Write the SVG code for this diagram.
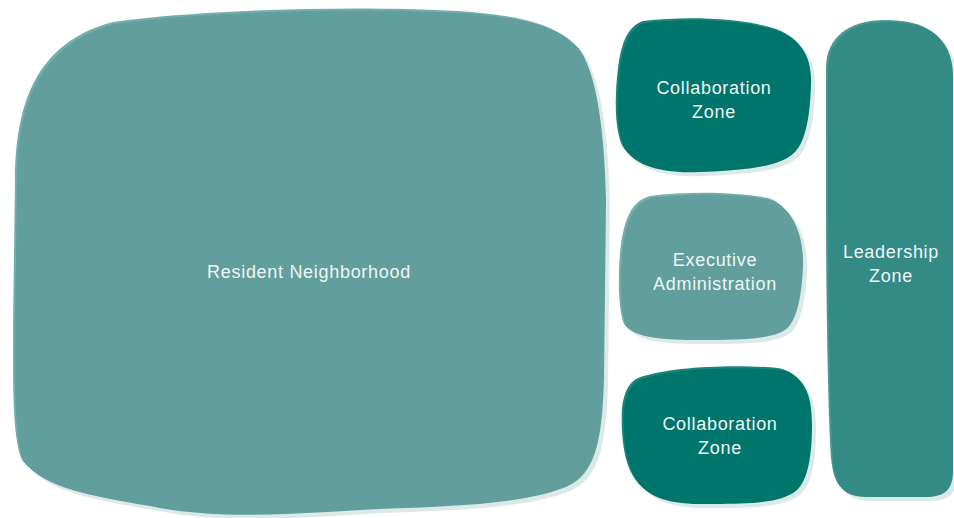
<svg xmlns="http://www.w3.org/2000/svg" width="954" height="518" viewBox="0 0 954 518">
<defs>
<style>
.sh{fill:#dbe9e8}
.hl-l{fill:#74aeab}
.hl-d{fill:#1a847c}
.hl-m{fill:#48988f}
.light{fill:#629e9b}
.dark{fill:#00756c}
.mid{fill:#348a84}
text{font-family:"Liberation Sans",Arial,sans-serif;font-size:18px;letter-spacing:0.7px;fill:#eef6f5;text-anchor:middle}
</style>
<path id="pRes" d="M115,24 C200,12 350,7 460,13 C520,17 560,26 580,50 C600,80 605,150 606,200 L604,380 C602,440 596,474 566,487 C520,505 450,506 380,509 C300,513 220,521 150,506 C90,496 45,488 24,462 C14,440 15,380 15,330 L17,180 C18,110 35,45 115,24 Z"/>
<path id="pC1" d="M645,23 C690,18 740,20 775,30 C800,38 812,55 811,85 C810,115 806,140 795,152 C780,168 740,170 700,172 C660,174 632,165 623,145 C616,125 617,95 620,70 C623,45 630,28 645,23 Z"/>
<path id="pEx" d="M652,198 C690,193 740,194 770,200 C795,208 804,240 803,265 C802,295 797,322 785,330 C770,340 735,340 700,340 C665,340 635,338 626,326 C620,310 620,280 622,255 C625,225 632,203 652,198 Z"/>
<path id="pC2" d="M640,380 C670,368 740,366 780,370 C805,375 812,395 812,425 C812,455 808,480 797,490 C780,505 740,504 700,504 C665,504 645,495 635,478 C624,460 623,430 624,410 C626,395 630,385 640,380 Z"/>
<path id="pLd" d="M828,70 C828,40 850,22 888,22 C925,22 952,35 953,75 L953,470 C953,490 945,497 925,497 L870,497 C845,497 836,490 833,460 C830,420 828,300 828,200 Z"/>
</defs>
<g id="connectors"></g>
<g id="resident-neighborhood">
<use href="#pRes" class="sh" x="4" y="4"/>
<use href="#pRes" class="hl-l" x="-2" y="-2"/>
<use href="#pRes" class="light"/>
<text x="309" y="278">Resident Neighborhood</text>
</g>
<g id="collaboration-zone-top">
<use href="#pC1" class="sh" x="4" y="4"/>
<use href="#pC1" class="hl-d" x="-2" y="-2"/>
<use href="#pC1" class="dark"/>
<text x="714" y="94">Collaboration</text>
<text x="714" y="118">Zone</text>
</g>
<g id="executive-administration">
<use href="#pEx" class="sh" x="4" y="4"/>
<use href="#pEx" class="hl-l" x="-2" y="-2"/>
<use href="#pEx" class="light"/>
<text x="715" y="266">Executive</text>
<text x="715" y="290">Administration</text>
</g>
<g id="collaboration-zone-bottom">
<use href="#pC2" class="sh" x="4" y="4"/>
<use href="#pC2" class="hl-d" x="-2" y="-2"/>
<use href="#pC2" class="dark"/>
<text x="720" y="430">Collaboration</text>
<text x="720" y="454">Zone</text>
</g>
<g id="leadership-zone">
<use href="#pLd" class="sh" x="4" y="4"/>
<use href="#pLd" class="hl-m" x="-2" y="-2"/>
<use href="#pLd" class="mid"/>
<text x="891" y="258">Leadership</text>
<text x="891" y="282">Zone</text>
</g>
</svg>
